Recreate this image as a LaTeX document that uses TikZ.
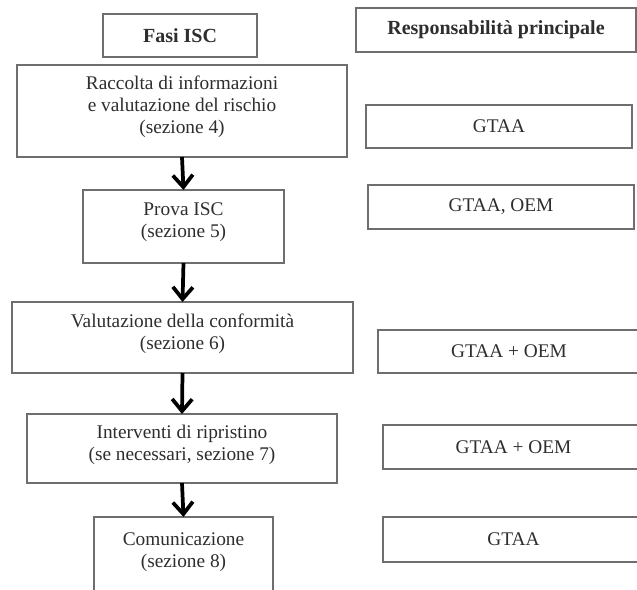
\documentclass[tikz,border=0pt]{standalone}
\usepackage{fontspec}
\setmainfont{Liberation Serif}
\usepackage{tikz}
\usetikzlibrary{arrows.meta, positioning}
\definecolor{iscInk}{HTML}{2E2E2E}
\definecolor{iscEdge}{HTML}{6E6E6E}

\begin{document}
\begin{tikzpicture}[
  x=0.75pt, y=-0.75pt,
  font=\fontsize{14.5}{16.5}\selectfont,
  boxsize/.style 2 args={minimum width=#1*0.75pt, minimum height=#2*0.75pt},
  plain/.style={draw=iscEdge, line width=0.9pt, align=center, text=iscInk,
                inner sep=2pt, outer sep=0pt},
  % the phase texts sit a little above the middle of their boxes
  phase/.style={plain, text depth=9pt},
  owner/.style={plain},
  head/.style={plain, font=\fontsize{15}{16.5}\selectfont\bfseries},
  flow/.style={line width=2.8pt, -{Straight Barb[length=9pt, width=15pt]}},
]
\clip (0,0) rectangle (637,590);
\fill[white] (0,0) rectangle (637,590);

% ============================== phases (left) ================================
\node[head, boxsize={154}{43}] (fasi) at (180,35.5) {Fasi ISC};

\node[phase, boxsize={330}{92}] (raccolta) at (182,111)
  {Raccolta di informazioni\\e valutazione del rischio\\(sezione 4)};
\node[phase, boxsize={201}{73}] (prova) at (183.5,226.5)
  {Prova ISC\\(sezione 5)};
\node[phase, boxsize={341}{71}] (conform) at (182.5,337.5)
  {Valutazione della conformità\\(sezione 6)};
\node[phase, boxsize={310}{69}] (ripristino) at (182,448.5)
  {Interventi di ripristino\\(se necessari, sezione 7)};
% The last box runs past the bottom edge, as in the page it was cut from.
\node[phase, boxsize={179}{79}] (comunica) at (183.5,556.5)
  {Comunicazione\\(sezione 8)};

\draw[flow] (raccolta.south) -- (prova.north);
\draw[flow] (prova.south) -- (conform.north);
\draw[flow] (conform.south) -- (ripristino.north);
\draw[flow] (ripristino.south) -- (comunica.north);

% ============================ who is in charge (right) =======================
\node[head, boxsize={280}{44}] (resp) at (496,30) {Responsabilità principale};

\node[owner, boxsize={266}{43}] (ownA) at (499,126.5) {GTAA};
\node[owner, boxsize={266}{44}] (ownB) at (501,207) {GTAA, OEM};
\node[owner, boxsize={262}{43}] (ownC) at (509,351.5) {GTAA + OEM};
\node[owner, boxsize={261}{44}] (ownD) at (513.5,447) {GTAA + OEM};
\node[owner, boxsize={261}{45}] (ownE) at (513.5,539.5) {GTAA};
\end{tikzpicture}
\end{document}
